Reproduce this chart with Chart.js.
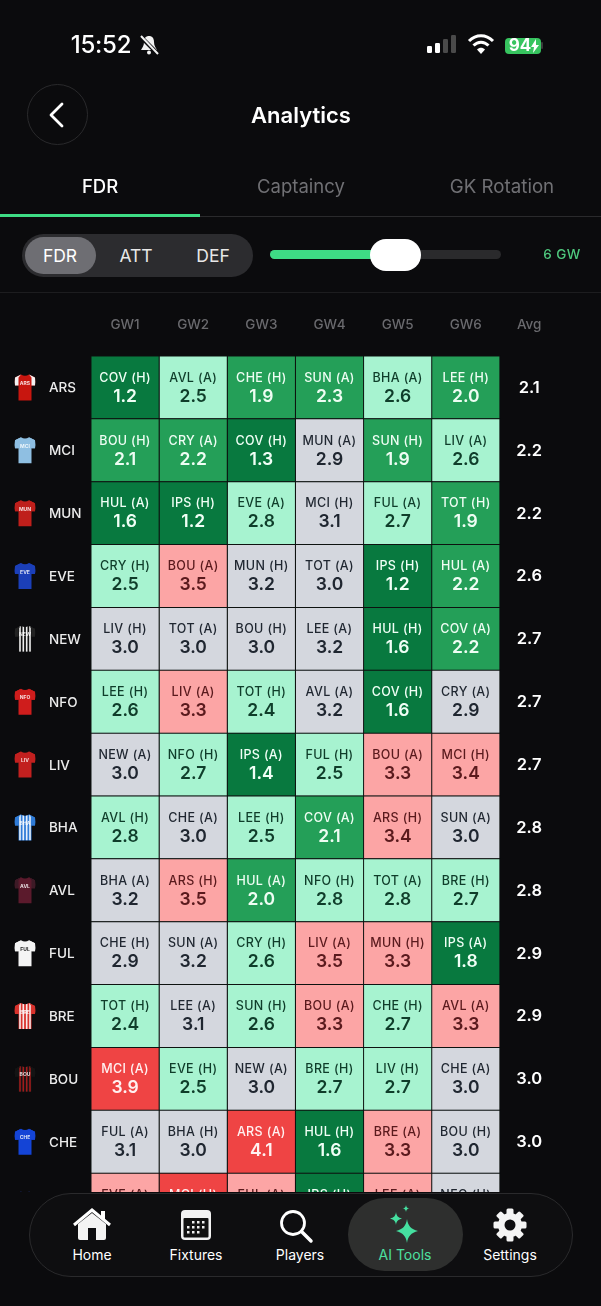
<!DOCTYPE html>
<html><head><meta charset="utf-8">
<script src="https://cdn.jsdelivr.net/npm/chart.js@4/dist/chart.umd.min.js"></script>
<style>
html,body{margin:0;padding:0;background:#0b0b0d;width:601px;height:1306px;overflow:hidden;font-family:Inter,Roboto,sans-serif;color:#fff}
#c{position:absolute;left:0;top:0}
.a{position:absolute;white-space:nowrap}
.ctr{transform:translate(-50%,-50%)}
#nav{position:absolute;left:0;top:1192px;width:601px;height:114px;background:#0b0b0d}
#pill{position:absolute;left:29px;top:1193px;width:542px;height:82px;border:1px solid #2a2a2c;border-radius:42px;background:#0e0e10}
#act{position:absolute;left:348px;top:1198px;width:115px;height:73px;border-radius:37px;background:#2e2f2e}
svg{position:absolute;overflow:visible}
</style></head><body>
<canvas id="c" width="601" height="1306" style="width:601px;height:1306px"></canvas>

<div class="a ctr" style="left:101px;top:44px;font-size:24px;font-weight:500;letter-spacing:-.2px">15:52</div>
<svg style="left:138px;top:34px" width="22" height="22" viewBox="0 0 22 22"><path d="M11 2c-3 0-5 2-5 6 0 4-2 6-3 8h16c-1-2-3-4-3-8 0-4-2-6-5-6z" fill="#f2f2f2"/><circle cx="11" cy="18.5" r="2" fill="#f2f2f2"/><path d="M2 2l18 18" stroke="#0b0b0d" stroke-width="4"/><path d="M3 2l17 18" stroke="#f2f2f2" stroke-width="2"/></svg>
<svg style="left:427px;top:34px" width="32" height="20"><rect x="0" y="12" width="5" height="7" rx="1.2" fill="#fff"/><rect x="8" y="9" width="5" height="10" rx="1.2" fill="#fff"/><rect x="16" y="5" width="5" height="14" rx="1.2" fill="#4a4a4a"/><rect x="24" y="1" width="5" height="18" rx="1.2" fill="#4a4a4a"/></svg>
<svg style="left:467px;top:33px" width="28" height="22" viewBox="0 0 28 22"><path d="M2 8c7-7 17-7 24 0" stroke="#fff" stroke-width="3" fill="none"/><path d="M6.500 12.500c4.500-4.500 10.500-4.500 15 0" stroke="#fff" stroke-width="3" fill="none"/><path d="M10 16.500c2.500-2.200 5.500-2.200 8 0L14 21z" fill="#fff"/></svg>
<div class="a" style="left:505px;top:38px;width:36px;height:16px;background:#37c45f;border-radius:4px"></div>
<div class="a" style="left:541px;top:42px;width:2px;height:7px;background:#3a3a3a;border-radius:1px"></div>
<div class="a ctr" style="left:520px;top:45px;font-size:17px;font-weight:700">94</div>
<svg style="left:531px;top:39px" width="8" height="14" viewBox="0 0 8 14"><path d="M5 0L0 8h3l-1 6 6-8H5z" fill="#fff"/></svg>

<div class="a" style="left:27px;top:84px;width:59px;height:59px;border:1px solid #2a2a2c;border-radius:50%"></div>
<svg style="left:46px;top:102px" width="20" height="26"><path d="M16 2L5 13l11 11" stroke="#fff" stroke-width="2.800" fill="none" stroke-linecap="round" stroke-linejoin="round"/></svg>
<div class="a ctr" style="left:301px;top:115px;font-size:22px;font-weight:600">Analytics</div>

<div class="a ctr" style="left:100px;top:186px;font-size:18.500px;font-weight:500">FDR</div>
<div class="a ctr" style="left:301px;top:186px;font-size:18.500px;color:#707074">Captaincy</div>
<div class="a ctr" style="left:502px;top:186px;font-size:18.700px;color:#707074">GK Rotation</div>
<div class="a" style="left:0;top:216px;width:601px;height:1px;background:#2a2a2c"></div>
<div class="a" style="left:0;top:214px;width:200px;height:3px;background:#3edc85"></div>

<div class="a" style="left:22px;top:234px;width:231px;height:43px;background:#2c2c2f;border-radius:22px"></div>
<div class="a" style="left:25px;top:237px;width:71px;height:37px;background:#6e6e73;border-radius:19px"></div>
<div class="a ctr" style="left:60px;top:255px;font-size:17.500px;font-weight:400">FDR</div>
<div class="a ctr" style="left:136px;top:255px;font-size:17.500px;font-weight:400;color:#e8e8e8">ATT</div>
<div class="a ctr" style="left:213px;top:255px;font-size:17.500px;font-weight:400;color:#e8e8e8">DEF</div>
<div class="a" style="left:270px;top:250px;width:231px;height:9px;background:#2a2a2c;border-radius:5px"></div>
<div class="a" style="left:270px;top:250px;width:105px;height:9px;background:#3edc85;border-radius:5px"></div>
<div class="a" style="left:370px;top:239px;width:51px;height:32px;background:#fff;border-radius:16px"></div>
<div class="a ctr" style="left:562px;top:254px;font-size:13.500px;font-weight:500;color:#4fc97e;letter-spacing:.4px">6 GW</div>
<div class="a" style="left:0;top:292px;width:601px;height:1px;background:#1d1d1f"></div>

<div id="nav"></div><div id="pill"></div><div id="act"></div>
<svg style="left:72px;top:1208px" width="40" height="34" viewBox="0 0 40 34"><path d="M2 17L20 2l18 15" stroke="#fff" stroke-width="3" fill="none"/><path d="M29 3h4v9l-4-3z" fill="#fff"/><path d="M6 16L20 5l14 11v14a2 2 0 0 1-2 2H8a2 2 0 0 1-2-2z" fill="#f4f4f4"/><rect x="16" y="20" width="8" height="12" fill="#0e0e10"/></svg>
<svg style="left:180px;top:1209px" width="32" height="32"><rect x="1" y="1" width="30" height="30" rx="4" fill="#f2f2f2"/><rect x="3.500" y="9" width="25" height="19.500" rx="1" fill="#111"/><g fill="#eee"><rect x="12" y="12" width="2.500" height="2.500"/><rect x="17" y="12" width="2.500" height="2.500"/><rect x="22" y="12" width="2.500" height="2.500"/><rect x="7" y="17" width="2.500" height="2.500"/><rect x="12" y="17" width="2.500" height="2.500"/><rect x="17" y="17" width="2.500" height="2.500"/><rect x="22" y="17" width="2.500" height="2.500"/><rect x="7" y="22" width="2.500" height="2.500"/><rect x="12" y="22" width="2.500" height="2.500"/><rect x="17" y="22" width="2.500" height="2.500"/></g></svg>
<svg style="left:278px;top:1208px" width="36" height="36"><circle cx="15" cy="15" r="11.500" stroke="#fff" stroke-width="2.800" fill="none"/><path d="M23.500 23.500L33 33" stroke="#fff" stroke-width="3.500" stroke-linecap="round"/></svg>
<svg style="left:388px;top:1205px" width="36" height="38" viewBox="0 0 36 38" fill="#45e0a0"><path d="M19 14c1 7 4 10 11 12-7 2-10 5-11 12-1-7-4-10-11-12 7-2 10-5 11-12z"/><path d="M8 7c.5 4 2 5.500 6 6.500-4 1-5.500 2.500-6 6.500-.5-4-2-5.500-6-6.500 4-1 5.500-2.500 6-6.500z"/><path d="M18 0c.3 2.300 1.200 3.200 3.500 3.500-2.300.3-3.200 1.200-3.500 3.500-.3-2.300-1.200-3.200-3.500-3.500 2.300-.3 3.200-1.200 3.500-3.500z"/></svg>
<svg style="left:494px;top:1208px" width="32" height="34" viewBox="0 0 32 34"><g fill="#f4f4f4"><circle cx="16" cy="17" r="12"/><g id="t"><rect x="12.500" y="0.500" width="7" height="33" rx="1.500"/><rect x="12.500" y="0.500" width="7" height="33" rx="1.500" transform="rotate(45 16 17)"/><rect x="12.500" y="0.500" width="7" height="33" rx="1.500" transform="rotate(90 16 17)"/><rect x="12.500" y="0.500" width="7" height="33" rx="1.500" transform="rotate(135 16 17)"/></g></g><circle cx="16" cy="17" r="5.500" fill="#0e0e10"/></svg>
<div class="a ctr" style="left:92px;top:1254px;font-size:14px;font-weight:400">Home</div>
<div class="a ctr" style="left:196px;top:1254px;font-size:14px;font-weight:400">Fixtures</div>
<div class="a ctr" style="left:300px;top:1254px;font-size:14px;font-weight:400">Players</div>
<div class="a ctr" style="left:405px;top:1254px;font-size:14px;font-weight:400;color:#4de0a0">AI Tools</div>
<div class="a ctr" style="left:510px;top:1254px;font-size:14px;font-weight:400">Settings</div>

<script>
const teams = ["ARS","MCI","MUN","EVE","NEW","NFO","LIV","BHA","AVL","FUL","BRE","BOU","CHE","CRY"];
const gameweeks = ["GW1","GW2","GW3","GW4","GW5","GW6"];
const avgLabel = "Avg";
const fixARS = ["COV (H)","AVL (A)","CHE (H)","SUN (A)","BHA (A)","LEE (H)"];
const fixMCI = ["BOU (H)","CRY (A)","COV (H)","MUN (A)","SUN (H)","LIV (A)"];
const fixMUN = ["HUL (A)","IPS (H)","EVE (A)","MCI (H)","FUL (A)","TOT (H)"];
const fixEVE = ["CRY (H)","BOU (A)","MUN (H)","TOT (A)","IPS (H)","HUL (A)"];
const fixNEW = ["LIV (H)","TOT (A)","BOU (H)","LEE (A)","HUL (H)","COV (A)"];
const fixNFO = ["LEE (H)","LIV (A)","TOT (H)","AVL (A)","COV (H)","CRY (A)"];
const fixLIV = ["NEW (A)","NFO (H)","IPS (A)","FUL (H)","BOU (A)","MCI (H)"];
const fixBHA = ["AVL (H)","CHE (A)","LEE (H)","COV (A)","ARS (H)","SUN (A)"];
const fixAVL = ["BHA (A)","ARS (H)","HUL (A)","NFO (H)","TOT (A)","BRE (H)"];
const fixFUL = ["CHE (H)","SUN (A)","CRY (H)","LIV (A)","MUN (H)","IPS (A)"];
const fixBRE = ["TOT (H)","LEE (A)","SUN (H)","BOU (A)","CHE (H)","AVL (A)"];
const fixBOU = ["MCI (A)","EVE (H)","NEW (A)","BRE (H)","LIV (H)","CHE (A)"];
const fixCHE = ["FUL (A)","BHA (H)","ARS (A)","HUL (H)","BRE (A)","BOU (H)"];
const fixCRY = ["EVE (A)","MCI (H)","FUL (A)","IPS (H)","LEE (A)","NFO (H)"];
const fdrARS = [1.2,2.5,1.9,2.3,2.6,2.0];
const fdrMCI = [2.1,2.2,1.3,2.9,1.9,2.6];
const fdrMUN = [1.6,1.2,2.8,3.1,2.7,1.9];
const fdrEVE = [2.5,3.5,3.2,3.0,1.2,2.2];
const fdrNEW = [3.0,3.0,3.0,3.2,1.6,2.2];
const fdrNFO = [2.6,3.3,2.4,3.2,1.6,2.9];
const fdrLIV = [3.0,2.7,1.4,2.5,3.3,3.4];
const fdrBHA = [2.8,3.0,2.5,2.1,3.4,3.0];
const fdrAVL = [3.2,3.5,2.0,2.8,2.8,2.7];
const fdrFUL = [2.9,3.2,2.6,3.5,3.3,1.8];
const fdrBRE = [2.4,3.1,2.6,3.3,2.7,3.3];
const fdrBOU = [3.9,2.5,3.0,2.7,2.7,3.0];
const fdrCHE = [3.1,3.0,4.1,1.6,3.3,3.0];
const fdrCRY = [3.4,4.0,3.3,1.5,3.4,3.0];
const averages = [2.1,2.2,2.2,2.6,2.7,2.7,2.7,2.8,2.8,2.9,2.9,3.0,3.0,3.1];

const fixtures = [fixARS,fixMCI,fixMUN,fixEVE,fixNEW,fixNFO,fixLIV,fixBHA,fixAVL,fixFUL,fixBRE,fixBOU,fixCHE,fixCRY];
const fdr = [fdrARS,fdrMCI,fdrMUN,fdrEVE,fdrNEW,fdrNFO,fdrLIV,fdrBHA,fdrAVL,fdrFUL,fdrBRE,fdrBOU,fdrCHE,fdrCRY];

function band(v){
  if(v<1.85) return {bg:"#08793f",fg:"#f0fff6"};
  if(v<2.35) return {bg:"#249f58",fg:"#eefdf3"};
  if(v<2.85) return {bg:"#a7f3d0",fg:"#0f3d2a"};
  if(v<3.25) return {bg:"#d4d7de",fg:"#1f2630"};
  if(v<3.7)  return {bg:"#fca5a5",fg:"#5a1a1d"};
  return {bg:"#ef4444",fg:"#fff1f1"};
}

const kit = {
  ARS:{b:"#c8160f",s:"#f2f2f2"},MCI:{b:"#8fbfe2",s:"#8fbfe2"},MUN:{b:"#bf1f1b",s:"#bf1f1b"},
  EVE:{b:"#1b3fb8",s:"#1b3fb8"},NEW:{b:"#111",s:"#222",st:"#eee"},NFO:{b:"#cf1d1c",s:"#cf1d1c"},
  LIV:{b:"#c2201f",s:"#c2201f"},BHA:{b:"#2f7bd6",s:"#2f7bd6",st:"#e6f0fb"},AVL:{b:"#5b1a2c",s:"#3d1a26"},
  FUL:{b:"#f4f4f4",s:"#f4f4f4"},BRE:{b:"#d8322c",s:"#d8322c",st:"#f6e8e8"},BOU:{b:"#141414",s:"#141414",st:"#a01c1c"},
  CHE:{b:"#1444d6",s:"#1444d6"},CRY:{b:"#1b2a6b",s:"#1b2a6b"}
};
const shirt = new Path2D("M-4 -13 L-10 -10 Q-10.500 -5 -10 -2 L-6.500 -2 L-6.500 13 L6.500 13 L6.500 -2 L10 -2 Q10.500 -5 10 -10 L4 -13 Q0 -10.500 -4 -13Z");
const sleeves = new Path2D("M-4 -13 L-10 -10 Q-10.500 -5 -10 -2 L-6.500 -2 L-6.500 -10Z M4 -13 L10 -10 Q10.500 -5 10 -2 L6.500 -2 L6.500 -10Z");

const cellText = {
  id:"cellText",
  afterDatasetsDraw(chart){
    const {ctx,scales:{x,y}} = chart;
    ctx.save();
    ctx.textAlign="center"; ctx.textBaseline="middle";
    teams.forEach((t,r)=>{
      const cy = y.getPixelForValue(r);
      fixtures[r].forEach((f,c)=>{
        const cx = x.getPixelForValue(c+.5), st = band(fdr[r][c]);
        ctx.fillStyle = st.fg;
        ctx.font = '500 12.5px Inter'; ctx.letterSpacing = ".35px";
        ctx.fillText(f,cx,cy-9.5);
        ctx.font = '600 17.5px Inter'; ctx.letterSpacing = "0px";
        ctx.fillText(fdr[r][c].toFixed(1),cx,cy+9);
      });
      ctx.fillStyle="#fff"; ctx.font='600 16.5px Inter';
      ctx.fillText(averages[r].toFixed(1),x.getPixelForValue(6.43),cy+.5);
    });
    ctx.restore();
  },
  beforeDatasetsDraw(chart){
    const {ctx,scales:{y}} = chart;
    teams.forEach((t,r)=>{
      const k = kit[t], cy = y.getPixelForValue(r);
      ctx.save(); ctx.translate(25,cy);
      ctx.fillStyle=k.b; ctx.fill(shirt);
      if(k.st){ ctx.save(); ctx.clip(shirt); ctx.fillStyle=k.st;
        [-5,-1.7,1.7,5].forEach(o=>ctx.fillRect(o-.8,-13,1.6,26)); ctx.restore(); }
      ctx.fillStyle=k.s; ctx.fill(sleeves);
      ctx.fillStyle = t==="FUL"?"#222":"rgba(255,255,255,.85)";
      ctx.font='700 5px Inter'; ctx.textAlign="center"; ctx.textBaseline="middle";
      ctx.fillText(t,0,-4);
      ctx.restore();
    });
  }
};

new Chart(document.getElementById("c"),{
  type:"bar",
  plugins:[cellText],
  data:{
    labels:teams,
    datasets:gameweeks.map((g,c)=>({
      label:g,
      data:teams.map(()=>[c,c+1]),
      backgroundColor:fdr.map(row=>band(row[c]).bg),
      borderColor:"#0d1210",
      borderWidth:1,
      borderSkipped:false,
      inflateAmount:0.5,
      barPercentage:1,categoryPercentage:1,grouped:false,
      clip:false
    }))
  },
  options:{
    indexAxis:"y",responsive:false,animation:false,devicePixelRatio:1,
    layout:{padding:{left:49,right:33,top:300,bottom:70}},
    plugins:{legend:{display:false},tooltip:{enabled:false},title:{display:false}},
    scales:{
      x:{type:"linear",position:"top",min:0,max:7,
        grid:{display:false},border:{display:false},
        afterBuildTicks:s=>{s.ticks=gameweeks.map((g,i)=>({value:i+.5})).concat([{value:6.43}]);},
        afterFit:s=>{s.height=56;},
        ticks:{autoSkip:false,maxRotation:0,padding:15,color:"#6a6a6e",
          font:{family:"Inter",size:13.5,weight:"500"},
          callback:(v,i)=>i<gameweeks.length?gameweeks[i]:avgLabel}},
      y:{type:"category",position:"left",reverse:false,
        grid:{display:false},border:{display:false},
        afterFit:s=>{s.width=42;},
        ticks:{autoSkip:false,crossAlign:"far",padding:0,labelOffset:1,color:"#ececec",
          font:{family:"Inter",size:13.5,weight:"500"}}}
    }
  }
});
</script>
</body></html>
